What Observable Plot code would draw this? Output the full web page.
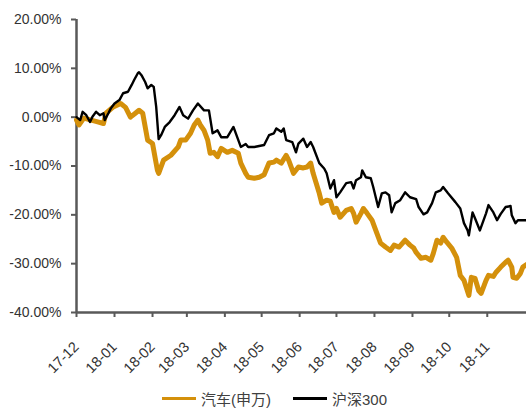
<!DOCTYPE html>
<html>
<head>
<meta charset="utf-8">
<script src="https://cdn.jsdelivr.net/npm/d3@7"></script>
<script src="https://cdn.jsdelivr.net/npm/@observablehq/plot@0.6"></script>
<style>
  body { margin: 0; background: #fff; font-family: "Liberation Sans", Arial, "Noto Sans CJK SC", sans-serif; }
  #chart svg { display: block; }
  #legend { position: relative; height: 23px; font-size: 15px; color: #404040; font-family: "Liberation Sans", Arial, "Noto Sans CJK SC", sans-serif; }
  .item { position: absolute; top: 3px; display: flex; align-items: center; white-space: nowrap; }
  .swatch { width: 34px; height: 3px; margin-right: 5px; }
</style>
</head>
<body>
<div id="chart"></div>
<div id="legend"></div>
<script>
const seriesNames = ["汽车(申万)", "沪深300"];
const seriesColors = ["#D4900B", "#000000"];

const autoDates = ["2017-12-01","2017-12-03","2017-12-07","2017-12-13","2017-12-19","2017-12-23","2017-12-25","2017-12-31","2018-01-06","2018-01-10","2018-01-14","2018-01-18","2018-01-21","2018-01-24","2018-01-28","2018-02-01","2018-02-05","2018-02-06","2018-02-10","2018-02-16","2018-02-22","2018-02-24","2018-02-28","2018-03-04","2018-03-07","2018-03-10","2018-03-12","2018-03-15","2018-03-18","2018-03-20","2018-03-23","2018-03-26","2018-03-29","2018-04-03","2018-04-07","2018-04-12","2018-04-14","2018-04-18","2018-04-20","2018-04-25","2018-04-29","2018-05-03","2018-05-07","2018-05-11","2018-05-13","2018-05-17","2018-05-21","2018-05-23","2018-05-27","2018-05-31","2018-06-04","2018-06-07","2018-06-10","2018-06-12","2018-06-17","2018-06-19","2018-06-23","2018-06-26","2018-06-29","2018-07-01","2018-07-04","2018-07-09","2018-07-13","2018-07-15","2018-07-17","2018-07-21","2018-07-23","2018-07-26","2018-07-30","2018-08-03","2018-08-06","2018-08-10","2018-08-14","2018-08-17","2018-08-21","2018-08-26","2018-08-30","2018-09-02","2018-09-04","2018-09-08","2018-09-12","2018-09-16","2018-09-18","2018-09-21","2018-09-24","2018-09-26","2018-09-29","2018-10-03","2018-10-07","2018-10-10","2018-10-13","2018-10-17","2018-10-19","2018-10-22","2018-10-25","2018-10-27","2018-10-31","2018-11-02","2018-11-06","2018-11-08","2018-11-12","2018-11-16","2018-11-18","2018-11-21","2018-11-22","2018-11-25","2018-11-28","2018-11-30","2018-12-03"];
const autoValues = [-0.6,-1.6,-0.2,-0.6,-1.0,-1.3,0.8,2.1,2.8,2.0,0.0,0.8,1.4,0.8,-4.7,-5.4,-10.9,-11.5,-8.8,-7.8,-6.1,-4.7,-4.7,-3.3,-1.6,-0.6,-1.6,-2.7,-4.7,-7.4,-7.2,-8.1,-6.4,-7.2,-6.8,-7.4,-9.4,-11.5,-12.3,-12.5,-12.3,-11.8,-9.4,-9.2,-8.8,-9.4,-7.8,-8.8,-11.5,-10.2,-10.4,-10.2,-9.4,-11.5,-15.6,-17.6,-17.0,-17.2,-19.5,-18.7,-20.5,-19.1,-18.7,-19.7,-21.5,-19.7,-18.7,-19.7,-21.1,-23.8,-25.8,-26.6,-27.3,-26.2,-26.6,-25.2,-26.2,-26.8,-27.7,-28.9,-28.7,-29.3,-27.9,-25.2,-25.8,-24.6,-25.6,-26.8,-28.7,-32.4,-33.4,-36.5,-32.8,-33.0,-35.5,-36.1,-33.4,-32.4,-32.6,-31.8,-30.7,-29.7,-29.3,-30.7,-32.8,-33.0,-32.0,-30.7,-30.2];

const hs300Dates = ["2017-12-01","2017-12-04","2017-12-06","2017-12-09","2017-12-12","2017-12-14","2017-12-17","2017-12-20","2017-12-23","2017-12-24","2017-12-27","2017-12-29","2018-01-01","2018-01-05","2018-01-08","2018-01-12","2018-01-15","2018-01-17","2018-01-20","2018-01-21","2018-01-23","2018-01-26","2018-01-28","2018-01-31","2018-02-02","2018-02-04","2018-02-06","2018-02-08","2018-02-11","2018-02-15","2018-02-19","2018-02-23","2018-02-26","2018-03-02","2018-03-06","2018-03-10","2018-03-15","2018-03-19","2018-03-22","2018-03-26","2018-03-29","2018-04-03","2018-04-08","2018-04-14","2018-04-18","2018-04-20","2018-04-25","2018-04-29","2018-05-03","2018-05-07","2018-05-11","2018-05-13","2018-05-17","2018-05-19","2018-05-21","2018-05-26","2018-05-29","2018-05-31","2018-06-04","2018-06-07","2018-06-10","2018-06-12","2018-06-17","2018-06-21","2018-06-23","2018-06-26","2018-06-29","2018-07-01","2018-07-04","2018-07-09","2018-07-13","2018-07-15","2018-07-17","2018-07-21","2018-07-22","2018-07-25","2018-07-29","2018-07-31","2018-08-04","2018-08-07","2018-08-10","2018-08-13","2018-08-15","2018-08-18","2018-08-22","2018-08-26","2018-08-30","2018-09-04","2018-09-06","2018-09-10","2018-09-13","2018-09-17","2018-09-20","2018-09-24","2018-09-26","2018-09-30","2018-10-06","2018-10-10","2018-10-13","2018-10-16","2018-10-17","2018-10-20","2018-10-22","2018-10-26","2018-10-31","2018-11-02","2018-11-06","2018-11-09","2018-11-12","2018-11-16","2018-11-20","2018-11-21","2018-11-24","2018-11-26","2018-11-30","2018-12-03"];
const hs300Values = [0.0,-0.6,1.1,0.4,-1.0,0.1,1.1,0.4,0.8,-0.6,0.8,1.8,2.8,3.5,4.9,5.2,6.6,7.6,9.0,9.2,8.6,7.2,5.9,6.6,6.2,2.1,-4.5,-3.7,-2.0,-1.0,0.4,2.1,0.4,-0.3,1.4,2.8,1.4,1.4,-3.3,-2.7,-4.1,-4.1,-2.0,-6.1,-5.5,-6.1,-6.1,-5.9,-5.7,-3.7,-3.3,-2.3,-3.0,-2.3,-4.7,-5.1,-7.2,-5.4,-4.4,-6.1,-5.1,-6.1,-9.4,-10.5,-11.5,-14.6,-12.9,-16.4,-15.4,-13.5,-13.3,-14.6,-12.9,-12.3,-10.9,-12.3,-12.5,-14.3,-18.4,-15.6,-15.4,-16.0,-19.5,-17.6,-17.0,-15.4,-16.4,-16.8,-18.4,-19.9,-19.5,-17.6,-15.4,-15.0,-14.3,-15.6,-17.4,-18.7,-21.7,-23.2,-24.2,-19.5,-20.7,-23.2,-19.7,-18.0,-19.5,-21.1,-19.8,-18.4,-18.2,-20.1,-21.7,-21.1,-21.1,-21.1];

const xTickLabels = ["17-12","18-01","18-02","18-03","18-04","18-05","18-06","18-07","18-08","18-09","18-10","18-11"];
const yTicks = [-40, -30, -20, -10, 0, 10, 20];
const xDomain = ["2017-12-01", "2018-12-03"];

const parse = d3.utcParse("%Y-%m-%d");
const parseTick = d3.utcParse("%y-%m");
const autoData = autoDates.map((d, i) => ({date: parse(d), value: autoValues[i]}));
const hsData = hs300Dates.map((d, i) => ({date: parse(d), value: hs300Values[i]}));
const xTicks = xTickLabels.map(parseTick);
const axisColor = "#595959";

const chart = Plot.plot({
  width: 526,
  height: 385,
  marginLeft: 76,
  marginRight: 0,
  marginTop: 19,
  marginBottom: 73,
  style: {fontFamily: "'Liberation Sans', Arial, sans-serif", fontSize: "14px", color: "#333", background: "#fff"},
  x: {type: "utc", domain: xDomain.map(parse), label: null},
  y: {domain: [-40, 20], label: null},
  marks: [
    Plot.axisY({ticks: yTicks, tickSize: 5, tickPadding: 10, tickFormat: d => d.toFixed(2) + "%", stroke: axisColor, strokeWidth: 2, fontSize: 14, fill: "#333", label: null}),
    Plot.axisX({ticks: xTicks, tickSize: 5, tickPadding: 27, tickRotate: -45, tickFormat: (d, i) => xTickLabels[i], stroke: axisColor, strokeWidth: 2, fontSize: 14.5, fill: "#333", label: null}),
    Plot.ruleX([parse(xDomain[0])], {stroke: axisColor, strokeWidth: 2.5}),
    Plot.ruleY([-40], {stroke: axisColor, strokeWidth: 2.5}),
    Plot.line(autoData, {x: "date", y: "value", stroke: seriesColors[0], strokeWidth: 5, curve: "linear"}),
    Plot.line(hsData, {x: "date", y: "value", stroke: seriesColors[1], strokeWidth: 2.4, curve: "linear"})
  ]
});
document.getElementById("chart").appendChild(chart);

const legend = document.getElementById("legend");
const lefts = [162, 293];
seriesNames.forEach((name, i) => {
  const item = document.createElement("div");
  item.className = "item";
  item.style.left = lefts[i] + "px";
  const sw = document.createElement("span");
  sw.className = "swatch";
  sw.style.background = seriesColors[i];
  const t = document.createElement("span");
  t.textContent = name;
  item.appendChild(sw);
  item.appendChild(t);
  legend.appendChild(item);
});
</script>
</body>
</html>
